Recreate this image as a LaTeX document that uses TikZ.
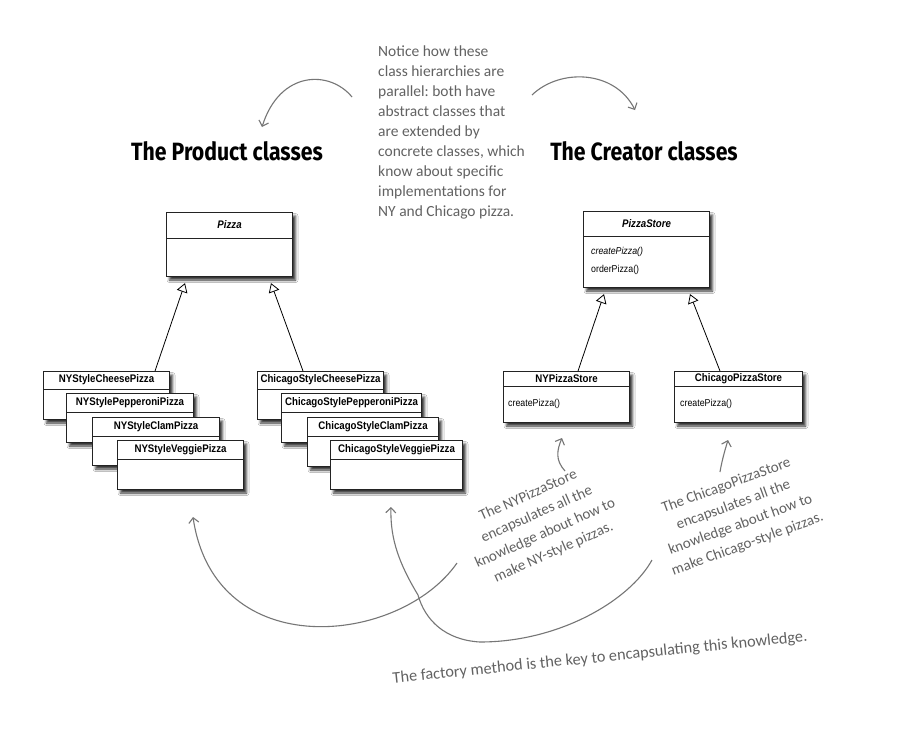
\documentclass[tikz,border=0pt]{standalone}
\usepackage{fontspec}
\setmainfont{Liberation Sans}
\newfontfamily\clsfont{Liberation Sans}[FakeStretch=0.88]
\newfontfamily\notefont{Carlito}
\newfontfamily\headfont{Fira Sans}[FakeStretch=0.85]
\usetikzlibrary{arrows.meta,shadows.blur}
\frenchspacing
\definecolor{notegray}{RGB}{98,98,98}
\definecolor{arrgray}{RGB}{118,118,118}
\definecolor{boxline}{RGB}{35,35,35}
\tikzset{
  clsbox/.style={draw=boxline, line width=1.1pt, fill=white, inner sep=0pt,
    blur shadow={shadow xshift=3pt, shadow yshift=-3.5pt, shadow blur radius=2.5pt, shadow opacity=80}},
  clsline/.style={draw=boxline, line width=1pt},
  clstitle/.style={font=\clsfont\bfseries\fontsize{11}{13}\selectfont, inner sep=0pt, text=black},
  clsmethod/.style={font=\clsfont\fontsize{10}{12}\selectfont, inner sep=0pt, anchor=base west},
  inherit/.style={draw=black, line width=0.8pt, -{Triangle[open, length=9pt, width=11pt, fill=white]}},
  heading/.style={font=\headfont\bfseries\fontsize{25}{29}\selectfont, inner sep=0pt},
  note/.style={font=\notefont\fontsize{15.5}{20}\selectfont, text=notegray, inner sep=0pt},
  rnote/.style={font=\notefont\fontsize{15}{20.7}\selectfont, text=notegray, inner sep=0pt, align=center},
  hand/.style={draw=arrgray, line width=1.1pt, -{Straight Barb[length=5pt, width=10pt, line width=1.1pt]}},
}
\newcommand\umlclass[7]{%
  \node[clsbox, minimum width=#4pt, minimum height=#5pt, anchor=north west] (#1) at (#2,#3) {};
  \draw[clsline] ([yshift=-#6pt]#1.north west) -- ([yshift=-#6pt]#1.north east);
  \node[clstitle] (#1t) at ([yshift=-#6pt*0.5]#1.north) {#7};
}
\begin{document}
\begin{tikzpicture}[x=1pt,y=-1pt]
\useasboundingbox[fill=white] (0,0) rectangle (897,737);

% headings
\node[heading, anchor=base] (prodh) at (227,160) {The Product classes};
\node[heading, anchor=base] (creah) at (644,160) {The Creator classes};

% top note
\node[note, anchor=north west, align=left] (topnote) at (378,46) {Notice how these\\class hierarchies are\\parallel: both have\\abstract classes that\\are extended by\\concrete classes, which\\know about specific\\implementations for\\NY and Chicago pizza.};

\coordinate (tla) at (352,97);
\coordinate (tlb) at (262,127);
\draw[hand] (tla) .. controls (330,70) and (280,70) .. (tlb);
\coordinate (tra) at (532,95);
\coordinate (trb) at (635,110);
\draw[hand] (tra) .. controls (560,68) and (615,70) .. (trb);

% abstract classes
\umlclass{pizza}{166}{212}{126}{64}{26}{\itshape Pizza}
\umlclass{store}{583}{211}{126}{76}{25}{\itshape PizzaStore}
\node[clsmethod] (sm1) at (591,254) {\itshape createPizza()};
\node[clsmethod] (sm2) at (591,272) {orderPizza()};

% concrete products
\umlclass{nyc}{43}{371}{126}{48}{18}{NYStyleCheesePizza}
\umlclass{nyp}{66}{393}{127}{49}{19}{NYStylePepperoniPizza}
\umlclass{nycl}{92}{417}{127}{48}{19}{NYStyleClamPizza}
\umlclass{nyv}{117}{440}{126}{49}{19}{NYStyleVeggiePizza}
\umlclass{chc}{257}{371}{126}{48}{18}{ChicagoStyleCheesePizza}
\umlclass{chp}{281}{393}{140}{49}{19}{ChicagoStylePepperoniPizza}
\umlclass{chcl}{307}{417}{131}{49}{19}{ChicagoStyleClamPizza}
\umlclass{chv}{330}{440}{132}{49}{19}{ChicagoStyleVeggiePizza}

% concrete creators
\umlclass{nys}{503}{371}{126}{51}{15}{NYPizzaStore}
\node[clsmethod] (nysm) at (508,406) {createPizza()};
\umlclass{chs}{674}{371}{128}{51}{15}{ChicagoPizzaStore}
\node[clsmethod] (chsm) at (680,406) {createPizza()};

% inheritance
\draw[inherit] ([xshift=112pt]nyc.north west) -- ([xshift=19pt,yshift=-6pt]pizza.south west);
\draw[inherit] ([xshift=46pt]chc.north west) -- ([xshift=105pt,yshift=-6pt]pizza.south west);
\draw[inherit] ([xshift=75pt]nys.north west) -- ([xshift=21pt,yshift=-6pt]store.south west);
\draw[inherit] ([xshift=46pt]chs.north west) -- ([xshift=107pt,yshift=-6pt]store.south west);

% bottom notes
\node[rnote, rotate=24] (nynote) at (541,524) {The NYPizzaStore\\encapsulates all the\\knowledge about how to\\make NY-style pizzas.};
\node[rnote, rotate=20] (chnote) at (737,515) {The ChicagoPizzaStore\\encapsulates all the\\knowledge about how to\\make Chicago-style pizzas.};
\node[rnote, font=\notefont\fontsize{16.3}{20}\selectfont, rotate=5.8] (keynote) at (600,658) {The factory method is the key to encapsulating this knowledge.};

% small arrows
\coordinate (nya) at (565,471); \coordinate (nyb) at (562,438);
\draw[hand] (nya) .. controls (555,460) and (557,450) .. (nyb);
\coordinate (cha) at (720,472); \coordinate (chb) at (728,440);
\draw[hand] (cha) .. controls (722,460) and (725,450) .. (chb);

% big curves
\coordinate (b1a) at (457,563); \coordinate (b1b) at (193,517);
\draw[hand] (b1a) .. controls (400,645) and (215,665) .. (b1b);
\coordinate (b2a) at (652,560); \coordinate (b2b) at (391,507);
\draw[hand] (b2a) .. controls (630,600) and (560,642) .. (480,642)
  .. controls (445,640) and (425,620) .. (418,595)
  .. controls (400,565) and (390,540) .. (b2b);
\end{tikzpicture}
\end{document}
